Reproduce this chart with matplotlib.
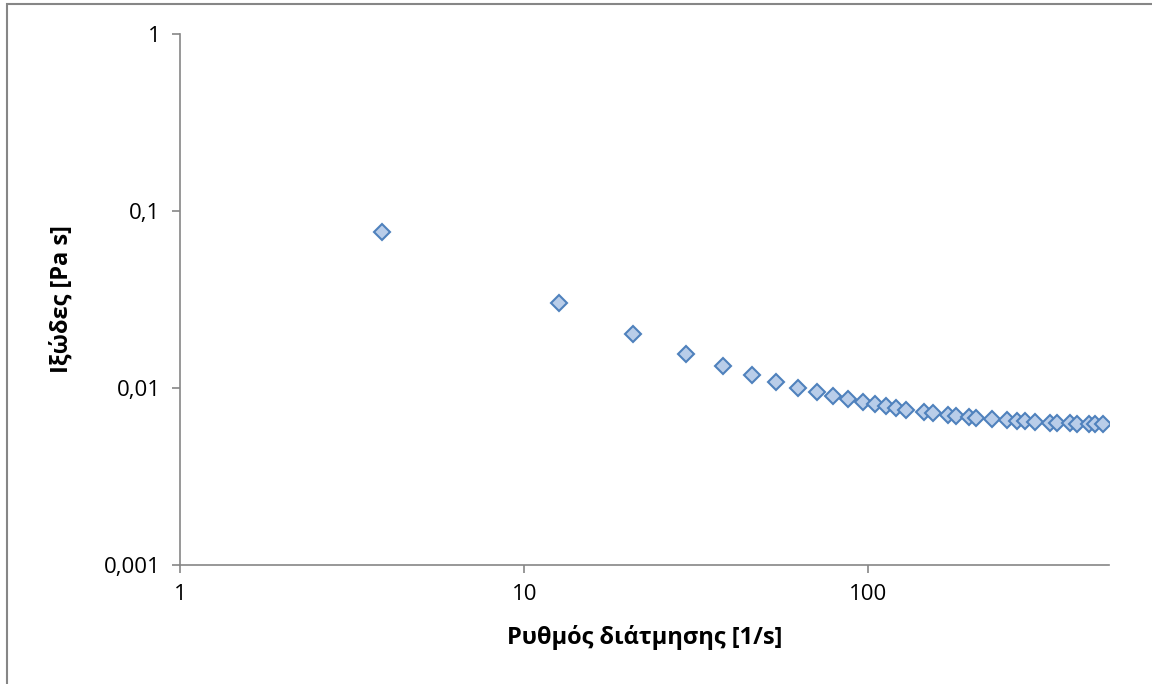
import matplotlib.pyplot as plt
from matplotlib.patches import Rectangle

# shear rate [1/s] and viscosity [Pa s]
shear_rate = [3.87, 12.6, 20.7, 29.6, 37.7, 46.0, 54.0, 62.3, 70.9, 79.1,
              87.2, 96.2, 104.3, 112.3, 120.6, 129.0, 145.0, 154.0, 170.0, 179.5,
              196.0, 205.0, 229.0, 253.0, 270.0, 286.0, 304.0, 336.0, 353.0, 385.0,
              404.0, 437.0, 456.0, 479.0]
viscosity = [0.076, 0.0302, 0.0202, 0.01556, 0.0133, 0.0118, 0.01077, 0.01004, 0.00946, 0.00901,
             0.00863, 0.00834, 0.00809, 0.00788, 0.00771, 0.00755, 0.00736, 0.00723, 0.00704, 0.00698,
             0.00686, 0.00680, 0.00665, 0.00657, 0.00651, 0.00651, 0.00643, 0.00637, 0.00634, 0.00632,
             0.00629, 0.00629, 0.00627, 0.00627]

x_ticks = [1, 10, 100]
x_labels = ['1', '10', '100']
y_ticks = [0.001, 0.01, 0.1, 1]
y_labels = ['0,001', '0,01', '0,1', '1']

plt.rcParams['font.family'] = ['Open Sans', 'DejaVu Sans']
grey = '#868686'

fig = plt.figure(figsize=(11.52, 6.84), dpi=100)
ax = fig.add_axes([180/1152, 1 - 565/684, (1109 - 180)/1152, (565 - 34)/684])

ax.plot(shear_rate, viscosity, linestyle='none', marker='D', markersize=8.5,
        markerfacecolor='#b9cde9', markeredgecolor='#4f81bd', markeredgewidth=1.5)

ax.set_xscale('log')
ax.set_yscale('log')
ax.set_xlim(1, 500)
ax.set_ylim(0.001, 1)
ax.set_xticks(x_ticks)
ax.set_xticklabels(x_labels)
ax.set_yticks(y_ticks)
ax.set_yticklabels(y_labels)
ax.minorticks_off()

for s in ['top', 'right']:
    ax.spines[s].set_visible(False)
for s in ['left', 'bottom']:
    ax.spines[s].set_color(grey)
    ax.spines[s].set_linewidth(1.2)
ax.tick_params(which='major', direction='out', length=6, width=1.2, color=grey,
               labelsize=16, labelcolor='black', pad=8)

ax.set_xlabel('Ρυθμός διάτμησης [1/s]', fontsize=17, fontweight='bold', labelpad=14)
ax.set_ylabel('Ιξώδες [Pa s]', fontsize=17, fontweight='bold', labelpad=22)

# chart area border
fig.patches.append(Rectangle((7/1152, -0.1), 1.2, 1 - 4/684 + 0.1,
                             transform=fig.transFigure, fill=False,
                             edgecolor=grey, linewidth=1.5))

fig.savefig('out.png', dpi=100)
